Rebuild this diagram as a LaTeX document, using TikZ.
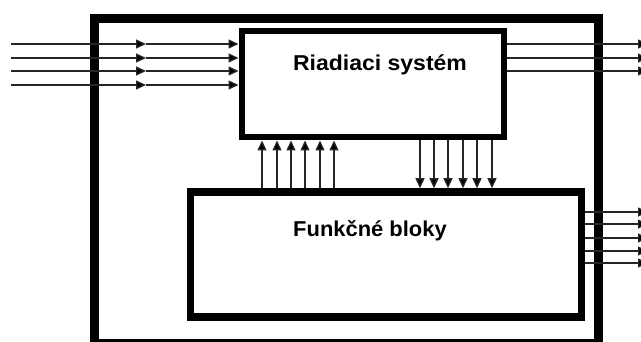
\documentclass[tikz,border=0pt]{standalone}
\usepackage{fontspec}
\setmainfont{Liberation Sans}
\usetikzlibrary{arrows.meta}
\begin{document}
\begin{tikzpicture}[x=1pt,y=-1pt,
  box/.style={draw=black,rectangle,inner sep=0pt,fill=none},
  arr/.style={draw=black!85,line width=1.3pt,-{Triangle[length=10pt,width=9pt,fill=black]}},
  lbl/.style={font=\fontsize{21.5pt}{24pt}\selectfont\bfseries,inner sep=0pt,anchor=base}]
\useasboundingbox (0,0) rectangle (641,342);
\clip (0,0) rectangle (641,342);
\node[box,line width=9pt,minimum width=504pt,minimum height=325pt] (sys) at (346.5,181) {};
\node[box,line width=6pt,minimum width=262.5pt,minimum height=106pt] (rs) at (372.75,84.5) {};
\node[box,line width=7.5pt,minimum width=391pt,minimum height=125pt] (fb) at (386,254.5) {};
\node[lbl] (rst) at (380,71) {\scalebox{1.07}[1]{Riadiaci systém}};
\node[lbl] (fbt) at (370,237) {\scalebox{1.02}[1]{Funkčné bloky}};
% inputs
\foreach \y [count=\i] in {44,58,71,85} {
  \coordinate (in\i) at (11,\y);
  \coordinate (mid\i) at (146,\y);
  \draw[arr] (in\i) -- (mid\i);
  \draw[arr] (mid\i) -- (rs.west |- mid\i);
}
% outputs of the control system
\foreach \y [count=\i] in {44,58,71} {
  \coordinate (ro\i) at (648,\y);
  \draw[arr] (rs.east |- ro\i) -- (ro\i);
}
% outputs of the function blocks
\foreach \y [count=\i] in {212,224,238,251,263} {
  \coordinate (fo\i) at (648,\y);
  \draw[arr] (fb.east |- fo\i) -- (fo\i);
}
% upward arrows
\foreach \x [count=\i] in {262,277,291,305,320,334} {
  \coordinate (u\i) at (\x,150);
  \draw[arr] (fb.north -| u\i) -- (rs.south -| u\i);
}
% downward arrows
\foreach \x [count=\i] in {420,434,448,463,477,492} {
  \coordinate (d\i) at (\x,150);
  \draw[arr] (rs.south -| d\i) -- (fb.north -| d\i);
}
\end{tikzpicture}
\end{document}
